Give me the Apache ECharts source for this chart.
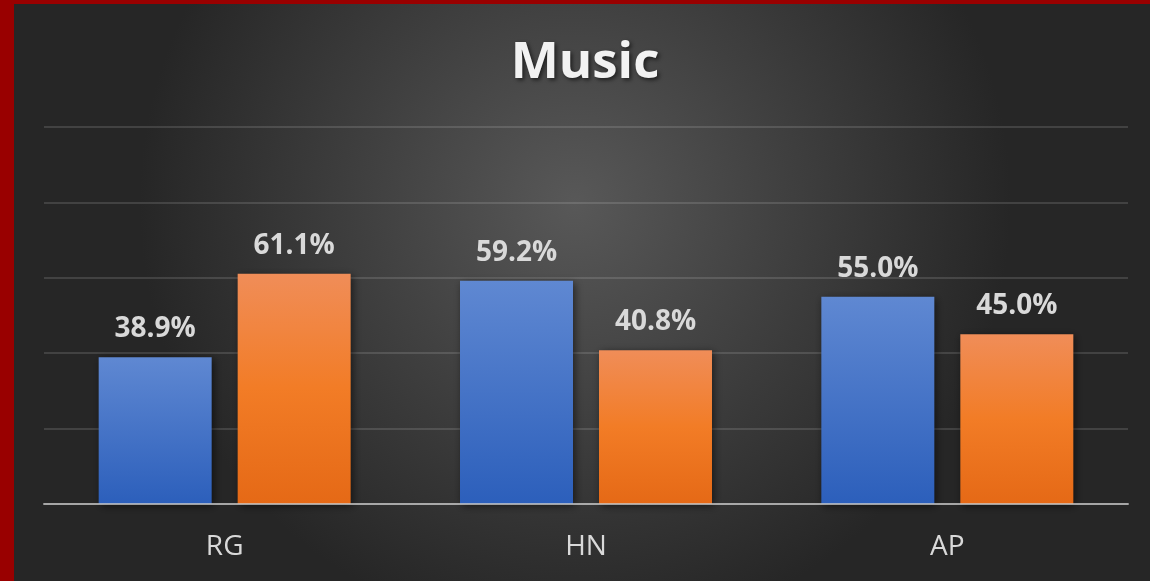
<!DOCTYPE html>
<html><head><meta charset="utf-8">
<script src="https://cdn.jsdelivr.net/npm/echarts@6/dist/echarts.min.js"></script>
<style>html,body{margin:0;padding:0;background:#990000;}#c{width:1150px;height:581px;}</style>
</head><body><div id="c"></div>
<script>
const categories = ['RG', 'HN', 'AP'];
const blueValues = [38.9, 59.2, 55.0];
const orangeValues = [61.1, 40.8, 45.0];
const yTicks = [0, 20, 40, 60, 80, 100];

const chart = echarts.init(document.getElementById('c'));
const labelStyle = {
  show: true, position: 'top', distance: 14,
  formatter: p => p.value.toFixed(1) + '%',
  color: '#d9d9d9', fontFamily: 'Open Sans', fontWeight: 'bold', fontSize: 28
};
chart.setOption({
  backgroundColor: {
    type: 'radial', x: 0.5, y: 0.35, r: 0.75,
    colorStops: [{offset: 0, color: '#585858'}, {offset: 1, color: '#262626'}]
  },
  animation: false,
  graphic: [
    {type: 'rect', shape: {x: 0, y: 0, width: 14, height: 581}, style: {fill: '#990000'}, z: 100},
    {type: 'rect', shape: {x: 0, y: 0, width: 1150, height: 4}, style: {fill: '#990000'}, z: 100}
  ],
  title: {
    text: 'Music', left: 580, textAlign: 'center', top: 33,
    textStyle: {color: '#f2f2f2', fontFamily: 'Open Sans', fontWeight: 'bold', fontSize: 51,
      textShadowColor: 'rgba(0,0,0,0.6)', textShadowBlur: 4, textShadowOffsetX: 2, textShadowOffsetY: 2}
  },
  grid: {left: 44, right: 22, top: 127, bottom: 77},
  xAxis: {
    type: 'category', data: categories, z: 5,
    axisLine: {lineStyle: {color: 'rgba(200,200,200,0.75)', width: 2}},
    axisTick: {show: false},
    axisLabel: {color: '#d9d9d9', fontFamily: 'Open Sans', fontSize: 28, margin: 29}
  },
  yAxis: {
    type: 'value', min: yTicks[0], max: yTicks[yTicks.length - 1], interval: 20,
    axisLabel: {show: false}, axisLine: {show: false}, axisTick: {show: false},
    splitLine: {lineStyle: {color: 'rgba(255,255,255,0.13)', width: 2}}
  },
  series: [
    {
      type: 'bar', data: blueValues, barWidth: 113, barGap: '23%',
      itemStyle: {
        color: {type: 'linear', x: 0, y: 0, x2: 0, y2: 1,
          colorStops: [{offset: 0, color: '#5f88d2'}, {offset: 1, color: '#2c5fbb'}]},
        shadowColor: 'rgba(0,0,0,0.55)', shadowBlur: 8, shadowOffsetX: 2, shadowOffsetY: 2
      },
      label: labelStyle
    },
    {
      type: 'bar', data: orangeValues, barWidth: 113,
      itemStyle: {
        color: {type: 'linear', x: 0, y: 0, x2: 0, y2: 1,
          colorStops: [{offset: 0, color: '#f08d58'}, {offset: 0.5, color: '#f27c26'}, {offset: 1, color: '#e56916'}]},
        shadowColor: 'rgba(0,0,0,0.55)', shadowBlur: 8, shadowOffsetX: 2, shadowOffsetY: 2
      },
      label: labelStyle
    }
  ]
});
</script></body></html>
